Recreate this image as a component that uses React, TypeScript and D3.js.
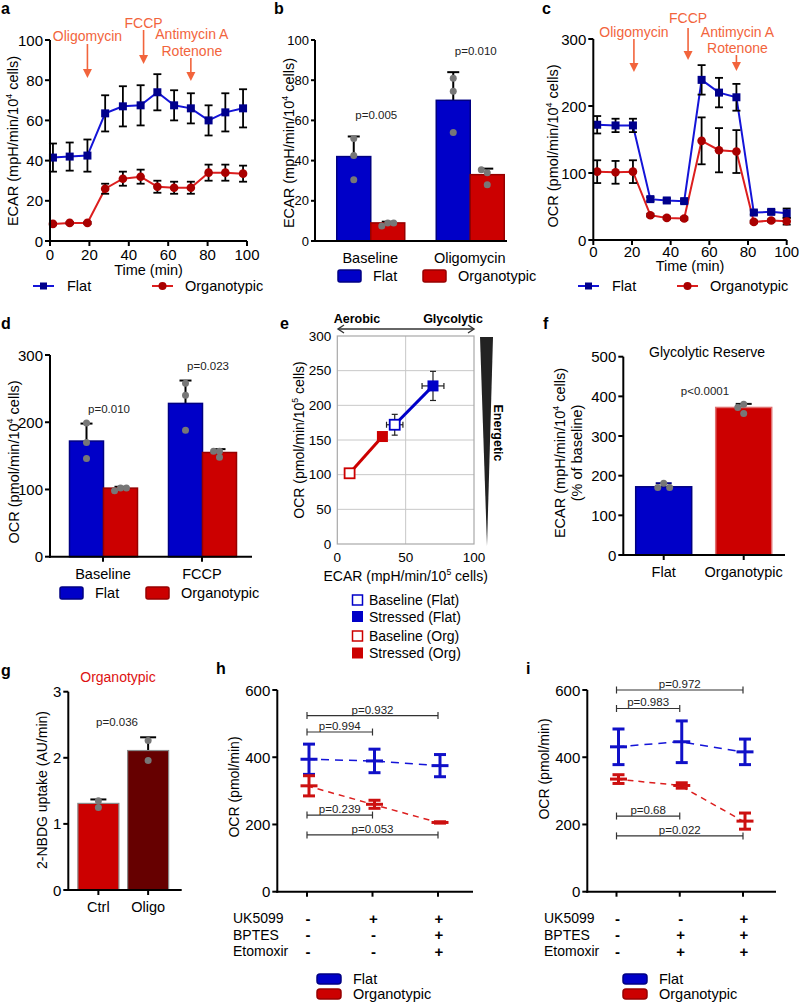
import React from 'react';
import * as d3 from 'd3';

// ---------- colours ----------
const FLAT_LINE = '#1414d8';
const FLAT_MARK = '#00008c';
const FLAT_FILL = '#0000c8';
const FLAT_EDGE = '#000082';
const ORG_LINE = '#dc1e1e';
const ORG_MARK = '#aa0000';
const ORG_FILL = '#cc0000';
const ORG_EDGE = '#960000';
const ORANGE = '#f2643c';
const FONT = '"Liberation Sans", Arial, Helvetica, sans-serif';

// ---------- panel a data (ECAR time course) ----------
const timeA = [1.5, 10, 19, 28, 37, 46, 54.5, 63, 71.5, 80.5, 89, 98];
const ecarFlat = [41.5, 42, 42.5, 63.5, 67, 67.5, 74, 67.5, 66, 60, 64, 66];
const ecarFlatErr = [7, 7, 8, 9, 10, 10, 9, 7.5, 7.5, 7.5, 9.5, 9.5];
const ecarOrg = [8.5, 9, 9, 26, 31, 32, 27, 26.5, 26.5, 34, 34, 33.5];
const ecarOrgErr = [0.5, 0.5, 0.5, 2.5, 3.5, 3.5, 3, 3, 3, 4, 4, 4];
const injA = [
  { t: 19, lines: ['Oligomycin'] },
  { t: 47.5, lines: ['FCCP'] },
  { t: 71.5, lines: ['Antimycin A', 'Rotenone'] },
];

// ---------- panel b data ----------
const catsB = ['Baseline', 'Oligomycin'];
const bFlat = [42, 70];
const bFlatErr = [10, 14];
const bOrg = [9, 33];
const bOrgErr = [0.6, 3];
const bFlatDots = [[51, 42.5, 30.5], [81, 74.5, 54]];
const bOrgDots = [[9, 7.5, 9], [34, 35.5, 28]];
const bP = ['p=0.005', 'p=0.010'];

// ---------- panel c data (OCR time course) ----------
const timeC = [2, 11.5, 20.5, 29.5, 38, 47, 56, 65, 74, 83, 92, 100];
const ocrFlat = [172, 171, 171, 61, 59, 58, 239, 220, 213, 41, 42, 40];
const ocrFlatErr = [13, 10, 10, 3, 3, 3, 22, 22, 20, 3, 3, 7];
const ocrOrg = [102, 101, 102, 37, 33, 32, 148, 134, 132, 27, 29, 28];
const ocrOrgErr = [17, 17, 17, 2, 2, 2, 35, 33, 32, 2, 2, 5];
const injC = [
  { t: 21, lines: ['Oligomycin'] },
  { t: 49, lines: ['FCCP'] },
  { t: 74, lines: ['Antimycin A', 'Rotenone'] },
];

// ---------- panel d data ----------
const catsD = ['Baseline', 'FCCP'];
const dFlat = [172, 228];
const dFlatErr = [26, 34];
const dOrg = [102, 155];
const dOrgErr = [2, 5];
const dFlatDots = [[199, 170, 146], [258, 240, 188]];
const dOrgDots = [[102, 98, 102], [157, 148, 157]];
const dP = ['p=0.010', 'p=0.023'];

// ---------- panel e data (energy map) ----------
const eFlatEcar = [42, 70];
const eFlatOcr = [172, 228];
const eFlatEcarErr = [6, 8];
const eFlatOcrErr = [15, 21];
const eOrgEcar = [9, 33];
const eOrgOcr = [102, 155];

// ---------- panel f data ----------
const catsF = ['Flat', 'Organotypic'];
const fVals = [172, 372];
const fErr = [9, 9];
const fDots = [[181, 170, 170], [380, 372, 357]];

// ---------- panel g data ----------
const catsG = ['Ctrl', 'Oligo'];
const gVals = [1.31, 2.11];
const gErr = [0.06, 0.2];
const gDots = [[1.35, 1.25], [2.26, 1.96]];

// ---------- panel h data ----------
const hFlat = [394, 389, 375];
const hFlatErr = [45, 35, 33];
const hOrg = [315, 260, 206];
const hOrgErr = [30, 12, 2];
const hUK = ['-', '+', '+'];
const hBPTES = ['-', '-', '+'];
const hEto = ['-', '-', '+'];
const hBrackets = [
  { a: 0, b: 2, v: 524, p: 'p=0.932' },
  { a: 0, b: 1, v: 475, p: 'p=0.994' },
  { a: 0, b: 1, v: 228, p: 'p=0.239' },
  { a: 0, b: 2, v: 169, p: 'p=0.053' },
];

// ---------- panel i data ----------
const iFlat = [431, 446, 416];
const iFlatErr = [53, 62, 38];
const iOrg = [335, 316, 210];
const iOrgErr = [13, 8, 24];
const iUK = ['-', '-', '+'];
const iBPTES = ['-', '+', '+'];
const iEto = ['-', '+', '+'];
const iBrackets = [
  { a: 0, b: 2, v: 600, p: 'p=0.972' },
  { a: 0, b: 1, v: 545, p: 'p=0.983' },
  { a: 0, b: 1, v: 225, p: 'p=0.68' },
  { a: 0, b: 2, v: 166, p: 'p=0.022' },
];

// ================= helpers =================
type Lin = d3.ScaleLinear<number, number>;

function YAxis({ scale, x, ticks, size = 15, tick = 5 }: { scale: Lin; x: number; ticks: number[]; size?: number; tick?: number }) {
  const [r0, r1] = scale.range();
  return (
    <g>
      <line x1={x} x2={x} y1={r0 + 1} y2={r1} stroke="#000" strokeWidth={2} />
      {ticks.map((t) => (
        <g key={t}>
          <line x1={x - tick} x2={x} y1={scale(t)} y2={scale(t)} stroke="#000" strokeWidth={2} />
          <text x={x - tick - 2} y={scale(t)} textAnchor="end" dominantBaseline="central" fontSize={size}>
            {t}
          </text>
        </g>
      ))}
    </g>
  );
}

function XAxisLin({ scale, y, ticks, size = 15, ly = 14 }: { scale: Lin; y: number; ticks: number[]; size?: number; ly?: number }) {
  const [r0, r1] = scale.range();
  return (
    <g>
      <line x1={r0 - 1} x2={r1} y1={y} y2={y} stroke="#000" strokeWidth={2} />
      {ticks.map((t) => (
        <g key={t}>
          <line x1={scale(t)} x2={scale(t)} y1={y} y2={y + 5} stroke="#000" strokeWidth={2} />
          <text x={scale(t)} y={y + ly} textAnchor="middle" dominantBaseline="central" fontSize={size}>
            {t}
          </text>
        </g>
      ))}
    </g>
  );
}

function Sup({ pre, sup, post }: { pre: string; sup: string; post: string }) {
  return (
    <>
      <tspan>{pre}</tspan>
      <tspan fontSize="0.62em" dy="-0.45em">{sup}</tspan>
      <tspan dy="0.28em">{post}</tspan>
    </>
  );
}

function VLabel({ x, y, children, size = 14.5 }: { x: number; y: number; children: React.ReactNode; size?: number }) {
  return (
    <text transform={`translate(${x},${y}) rotate(-90)`} textAnchor="middle" dominantBaseline="central" fontSize={size}>
      {children}
    </text>
  );
}

function PanelLabel({ x, y, t }: { x: number; y: number; t: string }) {
  return (
    <text x={x} y={y} fontWeight="bold" fontSize={16} dominantBaseline="central">
      {t}
    </text>
  );
}

function Arrow({ x, y1, y2, color }: { x: number; y1: number; y2: number; color: string }) {
  return (
    <g>
      <line x1={x} x2={x} y1={y1} y2={y2 - 6} stroke={color} strokeWidth={1.6} />
      <path d={`M${x - 4.5},${y2 - 9} L${x + 4.5},${y2 - 9} L${x},${y2} Z`} fill={color} />
    </g>
  );
}

function swarm(vals: number[], y: (v: number) => number, r: number) {
  const placed: { px: number; py: number }[] = [];
  return vals.map((v) => {
    const py = y(v);
    const cands = [0, -1.7 * r, 1.7 * r, -3.4 * r, 3.4 * r];
    for (const c of cands) {
      if (placed.every((p) => Math.hypot(p.px - c, p.py - py) >= 1.7 * r)) {
        placed.push({ px: c, py });
        return c;
      }
    }
    placed.push({ px: 0, py });
    return 0;
  });
}

function Dots({ cx, vals, y }: { cx: number; vals: number[]; y: Lin }) {
  const offs = swarm(vals, y, 3.5);
  return (
    <g>
      {vals.map((v, i) => (
        <circle key={i} cx={cx + offs[i]} cy={y(v)} r={3.5} fill="#777" />
      ))}
    </g>
  );
}

function ErrUp({ cx, v, e, y, color = '#000', w = 6 }: { cx: number; v: number; e: number; y: Lin; color?: string; w?: number }) {
  return (
    <g stroke={color} strokeWidth={2}>
      <line x1={cx} x2={cx} y1={y(v)} y2={y(v + e)} />
      <line x1={cx - w} x2={cx + w} y1={y(v + e)} y2={y(v + e)} />
    </g>
  );
}

// ================= time-course panel =================
function TimeCourse({
  x, y, times, flat, flatErr, org, orgErr,
}: { x: Lin; y: Lin; times: number[]; flat: number[]; flatErr: number[]; org: number[]; orgErr: number[] }) {
  const lf = d3.line<number>().x((_, i) => x(times[i])).y((d) => y(d));
  const err = (vals: number[], errs: number[], key: string) =>
    vals.map((v, i) => (
      <g key={key + i} stroke="#000" strokeWidth={1.8}>
        <line x1={x(times[i])} x2={x(times[i])} y1={y(v - errs[i])} y2={y(v + errs[i])} />
        <line x1={x(times[i]) - 4} x2={x(times[i]) + 4} y1={y(v - errs[i])} y2={y(v - errs[i])} />
        <line x1={x(times[i]) - 4} x2={x(times[i]) + 4} y1={y(v + errs[i])} y2={y(v + errs[i])} />
      </g>
    ));
  return (
    <g>
      <path d={lf(org) || ''} fill="none" stroke={ORG_LINE} strokeWidth={2} />
      <path d={lf(flat) || ''} fill="none" stroke={FLAT_LINE} strokeWidth={2} />
      {err(org, orgErr, 'o')}
      {err(flat, flatErr, 'f')}
      {org.map((v, i) => (
        <circle key={'oc' + i} cx={x(times[i])} cy={y(v)} r={4.3} fill={ORG_MARK} />
      ))}
      {flat.map((v, i) => (
        <rect key={'fr' + i} x={x(times[i]) - 4} y={y(v) - 4} width={8} height={8} fill={FLAT_MARK} />
      ))}
    </g>
  );
}

function LineLegend({ y, fx, ox }: { y: number; fx: number; ox: number }) {
  return (
    <g>
      <line x1={fx} x2={fx + 21} y1={y} y2={y} stroke={FLAT_LINE} strokeWidth={2} />
      <rect x={fx + 7} y={y - 3.5} width={7} height={7} fill={FLAT_MARK} />
      <text x={fx + 34} y={y} dominantBaseline="central" fontSize={14.5}>Flat</text>
      <line x1={ox} x2={ox + 21} y1={y} y2={y} stroke={ORG_LINE} strokeWidth={2} />
      <circle cx={ox + 10.5} cy={y} r={4} fill={ORG_MARK} />
      <text x={ox + 33} y={y} dominantBaseline="central" fontSize={14.5}>Organotypic</text>
    </g>
  );
}

function BarLegend({ y, fx, ox }: { y: number; fx: number; ox: number }) {
  return (
    <g>
      <rect x={fx} y={y - 6} width={23} height={12} rx={2} fill={FLAT_FILL} stroke={FLAT_EDGE} strokeWidth={1.5} />
      <text x={fx + 35} y={y} dominantBaseline="central" fontSize={14.5}>Flat</text>
      <rect x={ox} y={y - 6} width={23} height={12} rx={2} fill={ORG_FILL} stroke={ORG_EDGE} strokeWidth={1.5} />
      <text x={ox + 35} y={y} dominantBaseline="central" fontSize={14.5}>Organotypic</text>
    </g>
  );
}

function Injections({ x, inj, textY, arrows }: { x: Lin; inj: { t: number; lines: string[] }[]; textY: number[][]; arrows: number[][] }) {
  return (
    <g>
      {inj.map((d, i) => (
        <g key={i}>
          {d.lines.map((l, j) => (
            <text key={j} x={x(d.t) + (i === 2 ? 1 : 0)} y={textY[i][j]} textAnchor="middle" dominantBaseline="central" fontSize={14} fill={ORANGE}>
              {l}
            </text>
          ))}
          <Arrow x={x(d.t)} y1={arrows[i][0]} y2={arrows[i][1]} color={ORANGE} />
        </g>
      ))}
    </g>
  );
}

// ================= grouped bars =================
function GroupBars({
  cats, band, y, flat, flatErr, org, orgErr, flatDots, orgDots, p, pOff,
}: {
  cats: string[]; band: d3.ScaleBand<string>; y: Lin; flat: number[]; flatErr: number[]; org: number[]; orgErr: number[];
  flatDots: number[][]; orgDots: number[][]; p: string[]; pOff: number;
}) {
  const bw = 34;
  const y0 = y(0);
  return (
    <g>
      {cats.map((c, i) => {
        const cx = (band(c) || 0) + band.bandwidth() / 2;
        const fx = cx - bw + 0.5;
        const ox = cx + 0.5;
        return (
          <g key={c}>
            <ErrUp cx={fx + bw / 2} v={flat[i]} e={flatErr[i]} y={y} />
            <ErrUp cx={ox + bw / 2} v={org[i]} e={orgErr[i]} y={y} />
            <rect x={fx} y={y(flat[i])} width={bw} height={y0 - y(flat[i])} fill={FLAT_FILL} stroke={FLAT_EDGE} strokeWidth={1.5} />
            <rect x={ox} y={y(org[i])} width={bw} height={y0 - y(org[i])} fill={ORG_FILL} stroke={ORG_EDGE} strokeWidth={1.5} />
            <Dots cx={fx + bw / 2} vals={flatDots[i]} y={y} />
            <Dots cx={ox + bw / 2} vals={orgDots[i]} y={y} />
            <text x={cx + 6} y={y(flat[i] + flatErr[i]) - pOff} textAnchor="middle" dominantBaseline="central" fontSize={11.5} fill="#222">
              {p[i]}
            </text>
          </g>
        );
      })}
    </g>
  );
}

function CatAxis({ cats, band, y, x0, x1, ticks = true, size = 14.5, ly = 17 }: { cats: string[]; band: d3.ScaleBand<string>; y: number; x0: number; x1: number; ticks?: boolean; size?: number; ly?: number }) {
  return (
    <g>
      <line x1={x0 - 1} x2={x1} y1={y} y2={y} stroke="#000" strokeWidth={2} />
      {cats.map((c) => {
        const cx = (band(c) || 0) + band.bandwidth() / 2;
        return (
          <g key={c}>
            {ticks && <line x1={cx} x2={cx} y1={y} y2={y + 5} stroke="#000" strokeWidth={2} />}
            <text x={cx} y={y + ly} textAnchor="middle" dominantBaseline="central" fontSize={size}>
              {c}
            </text>
          </g>
        );
      })}
    </g>
  );
}

// ================= dose-response (h, i) =================
function MeanSD({
  x, y, flat, flatErr, org, orgErr, brackets,
}: { x: d3.ScalePoint<number>; y: Lin; flat: number[]; flatErr: number[]; org: number[]; orgErr: number[]; brackets: { a: number; b: number; v: number; p: string }[] }) {
  const idx = flat.map((_, i) => i);
  const ln = (vals: number[]) => d3.line<number>().x((_, i) => x(i) || 0).y((d) => y(d))(vals) || '';
  const marks = (vals: number[], errs: number[], color: string, k: string) =>
    vals.map((v, i) => {
      const cx = (x(i) || 0) + 2;
      return (
        <g key={k + i} stroke={color} strokeWidth={3}>
          <line x1={cx} x2={cx} y1={y(v - errs[i])} y2={y(v + errs[i])} />
          <line x1={cx - 6} x2={cx + 6} y1={y(v - errs[i])} y2={y(v - errs[i])} />
          <line x1={cx - 6} x2={cx + 6} y1={y(v + errs[i])} y2={y(v + errs[i])} />
          <line x1={cx - 8.5} x2={cx + 8.5} y1={y(v)} y2={y(v)} />
        </g>
      );
    });
  return (
    <g>
      <path d={ln(flat)} fill="none" stroke={FLAT_LINE} strokeWidth={1.5} strokeDasharray="8,6" />
      <path d={ln(org)} fill="none" stroke={ORG_LINE} strokeWidth={1.5} strokeDasharray="6,5" />
      {marks(flat, flatErr, '#1010c8', 'f')}
      {marks(org, orgErr, '#cc1010', 'o')}
      {brackets.map((b, i) => {
        const xa = x(b.a) || 0;
        const xb = x(b.b) || 0;
        const yy = y(b.v);
        return (
          <g key={i}>
            <g stroke="#333" strokeWidth={1.2}>
              <line x1={xa} x2={xb} y1={yy} y2={yy} />
              <line x1={xa} x2={xa} y1={yy - 3.5} y2={yy + 3.5} />
              <line x1={xb} x2={xb} y1={yy - 3.5} y2={yy + 3.5} />
            </g>
            <text x={(xa + xb) / 2} y={yy - 2} textAnchor="middle" fontSize={11.5} fill="#222">
              {b.p}
            </text>
          </g>
        );
      })}
      {idx.map((i) => (
        <line key={'t' + i} x1={x(i)} x2={x(i)} y1={y(0)} y2={y(0) + 5} stroke="#000" strokeWidth={2} />
      ))}
    </g>
  );
}

function SignRows({ x, labelX, rows, ys }: { x: d3.ScalePoint<number>; labelX: number; rows: { name: string; s: string[] }[]; ys: number[] }) {
  return (
    <g>
      {rows.map((r, j) => (
        <g key={r.name}>
          <text x={labelX} y={ys[j]} dominantBaseline="central" fontSize={14}>
            {r.name}
          </text>
          {r.s.map((s, i) => (
            <text key={i} x={(x(i) || 0) + 1} y={ys[j]} textAnchor="middle" dominantBaseline="central" fontSize={15} fontWeight="bold">
              {s === '-' ? '-' : '+'}
            </text>
          ))}
        </g>
      ))}
    </g>
  );
}

function SmallLegend({ x, y1, y2 }: { x: number; y1: number; y2: number }) {
  return (
    <g>
      <rect x={x} y={y1 - 5} width={24} height={10} rx={3} fill={FLAT_FILL} stroke={FLAT_EDGE} strokeWidth={1.5} />
      <text x={x + 36} y={y1} dominantBaseline="central" fontSize={14.5}>Flat</text>
      <rect x={x} y={y2 - 5} width={24} height={10} rx={3} fill={ORG_FILL} stroke={ORG_EDGE} strokeWidth={1.5} />
      <text x={x + 36} y={y2} dominantBaseline="central" fontSize={14.5}>Organotypic</text>
    </g>
  );
}

// ================= App =================
export default function App() {
  // a
  const xA = d3.scaleLinear().domain([0, 100]).range([50, 247]);
  const yA = d3.scaleLinear().domain([0, 100]).range([241, 40]);
  // b
  const yB = d3.scaleLinear().domain([0, 100]).range([241, 40]);
  const bandB = d3.scaleBand<string>().domain(catsB).range([320.5, 519.5]).padding(0);
  // c
  const xC = d3.scaleLinear().domain([0, 100]).range([593.3, 786.7]);
  const yC = d3.scaleLinear().domain([0, 300]).range([240, 39]);
  // d
  const yD = d3.scaleLinear().domain([0, 300]).range([556.7, 355]);
  const bandD = d3.scaleBand<string>().domain(catsD).range([53.5, 251.5]).padding(0);
  // e
  const xE = d3.scaleLinear().domain([0, 100]).range([337.3, 474]);
  const yE = d3.scaleLinear().domain([0, 300]).range([544, 336]);
  // f
  const yF = d3.scaleLinear().domain([0, 500]).range([555, 356.7]);
  const bandF = d3.scaleBand<string>().domain(catsF).range([623.7, 783.7]).padding(0);
  // g
  const yG = d3.scaleLinear().domain([0, 3]).range([890, 691.7]);
  const bandG = d3.scaleBand<string>().domain(catsG).range([73.5, 173]).padding(0);
  // h, i
  const yH = d3.scaleLinear().domain([0, 600]).range([891.7, 690]);
  const xH = d3.scalePoint<number>().domain([0, 1, 2]).range([307, 438]);
  const xI = d3.scalePoint<number>().domain([0, 1, 2]).range([616.5, 743]);

  const lineE = d3.line<number>();
  const flatPts: [number, number][] = eFlatEcar.map((v, i) => [xE(v), yE(eFlatOcr[i])]);
  const orgPts: [number, number][] = eOrgEcar.map((v, i) => [xE(v), yE(eOrgOcr[i])]);

  return (
    <svg width={799} height={1002} style={{ position: 'absolute', left: 0, top: 0, background: '#fff' }} fontFamily={FONT}>
      <rect width={799} height={1002} fill="#fff" />

      {/* ---------------- a ---------------- */}
      <PanelLabel x={1} y={8} t="a" />
      <TimeCourse x={xA} y={yA} times={timeA} flat={ecarFlat} flatErr={ecarFlatErr} org={ecarOrg} orgErr={ecarOrgErr} />
      <YAxis scale={yA} x={50} ticks={[0, 20, 40, 60, 80, 100]} />
      <XAxisLin scale={xA} y={241} ticks={[0, 20, 40, 60, 80, 100]} ly={13} />
      <text x={xA(50)} y={270} textAnchor="middle" dominantBaseline="central" fontSize={14.5}>Time (min)</text>
      <VLabel x={13} y={141}><Sup pre="ECAR (mpH/min/10" sup="4" post=" cells)" /></VLabel>
      <Injections x={xA} inj={injA} textY={[[36], [23], [34, 51]]} arrows={[[44, 78], [30, 64], [58, 81]]} />
      <LineLegend y={286} fx={33} ox={152} />

      {/* ---------------- b ---------------- */}
      <PanelLabel x={274} y={8} t="b" />
      <GroupBars cats={catsB} band={bandB} y={yB} flat={bFlat} flatErr={bFlatErr} org={bOrg} orgErr={bOrgErr}
        flatDots={bFlatDots} orgDots={bOrgDots} p={bP} pOff={21} />
      <YAxis scale={yB} x={315} ticks={[0, 20, 40, 60, 80, 100]} size={13} tick={4} />
      <CatAxis cats={catsB} band={bandB} y={241} x0={315} x1={507} ticks={false} />
      <VLabel x={289} y={143}><Sup pre="ECAR (mpH/min/10" sup="4" post=" cells)" /></VLabel>
      <BarLegend y={276} fx={338} ox={423} />

      {/* ---------------- c ---------------- */}
      <PanelLabel x={542} y={8} t="c" />
      <TimeCourse x={xC} y={yC} times={timeC} flat={ocrFlat} flatErr={ocrFlatErr} org={ocrOrg} orgErr={ocrOrgErr} />
      <YAxis scale={yC} x={593.3} ticks={[0, 100, 200, 300]} />
      <XAxisLin scale={xC} y={240} ticks={[0, 20, 40, 60, 80, 100]} ly={11} />
      <text x={xC(50)} y={266} textAnchor="middle" dominantBaseline="central" fontSize={14.5}>Time (min)</text>
      <VLabel x={553} y={146}><Sup pre="OCR (pmol/min/10" sup="4" post=" cells)" /></VLabel>
      <Injections x={xC} inj={injC} textY={[[32], [18], [32, 48]]} arrows={[[39, 72], [28, 60], [55, 71]]} />
      <LineLegend y={286} fx={578} ox={677} />

      {/* ---------------- d ---------------- */}
      <PanelLabel x={1} y={323} t="d" />
      <GroupBars cats={catsD} band={bandD} y={yD} flat={dFlat} flatErr={dFlatErr} org={dOrg} orgErr={dOrgErr}
        flatDots={dFlatDots} orgDots={dOrgDots} p={dP} pOff={15} />
      <YAxis scale={yD} x={50} ticks={[0, 100, 200, 300]} />
      <CatAxis cats={catsD} band={bandD} y={556.7} x0={50} x1={252} />
      <VLabel x={14} y={462}><Sup pre="OCR (pmol/min/10" sup="4" post=" cells)" /></VLabel>
      <BarLegend y={593} fx={60} ox={146} />

      {/* ---------------- e ---------------- */}
      <PanelLabel x={280} y={323} t="e" />
      <g>
        {[50, 100, 150, 200, 250].map((t) => (
          <line key={'gy' + t} x1={xE(0)} x2={xE(100)} y1={yE(t)} y2={yE(t)} stroke="#c8c8c8" strokeWidth={1} />
        ))}
        <line x1={xE(50)} x2={xE(50)} y1={yE(0)} y2={yE(300)} stroke="#c8c8c8" strokeWidth={1} />
        <rect x={xE(0)} y={yE(300)} width={xE(100) - xE(0)} height={yE(0) - yE(300)} fill="none" stroke="#a8a8a8" strokeWidth={1.2} />
        {[0, 50, 100, 150, 200, 250, 300].map((t) => (
          <text key={'ey' + t} x={xE(0) - 6} y={yE(t)} textAnchor="end" dominantBaseline="central" fontSize={13.5}>{t}</text>
        ))}
        {[0, 50, 100].map((t) => (
          <text key={'ex' + t} x={xE(t)} y={557} textAnchor="middle" dominantBaseline="central" fontSize={13.5}>{t}</text>
        ))}
        <text x={xE(50)} y={576} textAnchor="middle" dominantBaseline="central" fontSize={14}>
          <Sup pre="ECAR (mpH/min/10" sup="5" post=" cells)" />
        </text>
        <VLabel x={299} y={440} size={14}><Sup pre="OCR (pmol/min/10" sup="5" post=" cells)" /></VLabel>
        {/* aerobic / glycolytic arrow */}
        <text x={357} y={319} textAnchor="middle" dominantBaseline="central" fontSize={12.5} fontWeight="bold">Aerobic</text>
        <text x={453} y={319} textAnchor="middle" dominantBaseline="central" fontSize={12.5} fontWeight="bold">Glycolytic</text>
        <g stroke="#333" strokeWidth={1.4} fill="none">
          <line x1={338} x2={474} y1={329} y2={329} />
          <path d="M344,325 L338,329 L344,333" />
          <path d="M468,325 L474,329 L468,333" />
        </g>
        <path d="M480,337 L493,337 L487,546 Z" fill="#222" />
        <text transform="translate(498,433) rotate(90)" textAnchor="middle" dominantBaseline="central" fontSize={12.5} fontWeight="bold">Energetic</text>
        {/* lines */}
        <path d={lineE(orgPts) || ''} fill="none" stroke={ORG_FILL} strokeWidth={3} />
        <path d={lineE(flatPts) || ''} fill="none" stroke={FLAT_FILL} strokeWidth={3} />
        {/* error bars flat */}
        {eFlatEcar.map((v, i) => {
          const cx = xE(v);
          const cy = yE(eFlatOcr[i]);
          const x0 = xE(v - eFlatEcarErr[i]);
          const x1 = xE(v + eFlatEcarErr[i]);
          const y0 = yE(eFlatOcr[i] - eFlatOcrErr[i]);
          const y1 = yE(eFlatOcr[i] + eFlatOcrErr[i]);
          return (
            <g key={'ee' + i} stroke="#222" strokeWidth={1.2}>
              <line x1={x0} x2={x1} y1={cy} y2={cy} />
              <line x1={x0} x2={x0} y1={cy - 3} y2={cy + 3} />
              <line x1={x1} x2={x1} y1={cy - 3} y2={cy + 3} />
              <line x1={cx} x2={cx} y1={y0} y2={y1} />
              <line x1={cx - 3} x2={cx + 3} y1={y0} y2={y0} />
              <line x1={cx - 3} x2={cx + 3} y1={y1} y2={y1} />
            </g>
          );
        })}
        {/* markers */}
        <rect x={orgPts[0][0] - 5} y={orgPts[0][1] - 5} width={10} height={10} fill="#fff" stroke={ORG_FILL} strokeWidth={1.8} />
        <rect x={orgPts[1][0] - 5.5} y={orgPts[1][1] - 5.5} width={11} height={11} fill={ORG_FILL} />
        <rect x={flatPts[0][0] - 5} y={flatPts[0][1] - 5} width={10} height={10} fill="#fff" stroke={FLAT_FILL} strokeWidth={1.8} />
        <rect x={flatPts[1][0] - 5.5} y={flatPts[1][1] - 5.5} width={11} height={11} fill={FLAT_FILL} />
        {/* legend */}
        <rect x={352.5} y={595} width={10} height={10} fill="#fff" stroke={FLAT_FILL} strokeWidth={1.5} />
        <text x={369} y={600} dominantBaseline="central" fontSize={14}>Baseline (Flat)</text>
        <rect x={352} y={611} width={11} height={11} fill={FLAT_FILL} />
        <text x={369} y={616.5} dominantBaseline="central" fontSize={14}>Stressed (Flat)</text>
        <rect x={352.5} y={631} width={10} height={10} fill="#fff" stroke={ORG_FILL} strokeWidth={1.5} />
        <text x={369} y={636} dominantBaseline="central" fontSize={14}>Baseline (Org)</text>
        <rect x={352} y={647.5} width={11} height={11} fill={ORG_FILL} />
        <text x={369} y={653} dominantBaseline="central" fontSize={14}>Stressed (Org)</text>
      </g>

      {/* ---------------- f ---------------- */}
      <PanelLabel x={543} y={323} t="f" />
      <text x={707} y={352} textAnchor="middle" dominantBaseline="central" fontSize={14}>Glycolytic Reserve</text>
      {catsF.map((c, i) => {
        const cx = (bandF(c) || 0) + bandF.bandwidth() / 2;
        const bw = 56;
        return (
          <g key={c}>
            <ErrUp cx={cx} v={fVals[i]} e={fErr[i]} y={yF} color={i === 0 ? FLAT_EDGE : '#111'} w={8} />
            <rect x={cx - bw / 2} y={yF(fVals[i])} width={bw} height={yF(0) - yF(fVals[i])}
              fill={i === 0 ? FLAT_FILL : ORG_FILL} stroke={i === 0 ? FLAT_EDGE : '#e07070'} strokeWidth={1.5} />
            <Dots cx={cx} vals={fDots[i]} y={yF} />
          </g>
        );
      })}
      <text x={705} y={391} textAnchor="middle" dominantBaseline="central" fontSize={11.5} fill="#222">p&lt;0.0001</text>
      <YAxis scale={yF} x={623.3} ticks={[0, 100, 200, 300, 400, 500]} />
      <CatAxis cats={catsF} band={bandF} y={555} x0={623.3} x1={785} />
      <VLabel x={560} y={453}><Sup pre="ECAR (mpH/min/10" sup="4" post=" cells)" /></VLabel>
      <VLabel x={577} y={453}>(% of baseline)</VLabel>

      {/* ---------------- g ---------------- */}
      <PanelLabel x={1} y={670} t="g" />
      <text x={118} y={677} textAnchor="middle" dominantBaseline="central" fontSize={14} fill="#dd1111">Organotypic</text>
      {catsG.map((c, i) => {
        const cx = (bandG(c) || 0) + bandG.bandwidth() / 2;
        const bw = 41;
        return (
          <g key={c}>
            <ErrUp cx={cx} v={gVals[i]} e={gErr[i]} y={yG} w={8} />
            <rect x={cx - bw / 2} y={yG(gVals[i])} width={bw} height={yG(0) - yG(gVals[i])}
              fill={i === 0 ? ORG_FILL : '#660000'} stroke="#8a8a8a" strokeWidth={1.2} />
            <Dots cx={cx} vals={gDots[i]} y={yG} />
          </g>
        );
      })}
      <text x={117} y={722} textAnchor="middle" dominantBaseline="central" fontSize={11.5} fill="#222">p=0.036</text>
      <YAxis scale={yG} x={68.3} ticks={[0, 1, 2, 3]} />
      <CatAxis cats={catsG} band={bandG} y={890} x0={68.3} x1={181.7} />
      <VLabel x={42} y={790} size={14}>2-NBDG uptake (AU/min)</VLabel>

      {/* ---------------- h ---------------- */}
      <PanelLabel x={216} y={668} t="h" />
      <MeanSD x={xH} y={yH} flat={hFlat} flatErr={hFlatErr} org={hOrg} orgErr={hOrgErr} brackets={hBrackets} />
      <YAxis scale={yH} x={277.3} ticks={[0, 200, 400, 600]} />
      <line x1={276.3} x2={473} y1={yH(0)} y2={yH(0)} stroke="#000" strokeWidth={2} />
      <VLabel x={234} y={787} size={14}>OCR (pmol/min)</VLabel>
      <SignRows x={xH} labelX={233} rows={[{ name: 'UK5099', s: hUK }, { name: 'BPTES', s: hBPTES }, { name: 'Etomoxir', s: hEto }]} ys={[918, 934.5, 951]} />
      <SmallLegend x={317} y1={979} y2={994} />

      {/* ---------------- i ---------------- */}
      <PanelLabel x={526} y={668} t="i" />
      <MeanSD x={xI} y={yH} flat={iFlat} flatErr={iFlatErr} org={iOrg} orgErr={iOrgErr} brackets={iBrackets} />
      <YAxis scale={yH} x={587.3} ticks={[0, 200, 400, 600]} />
      <line x1={586.3} x2={776} y1={yH(0)} y2={yH(0)} stroke="#000" strokeWidth={2} />
      <VLabel x={544} y={769} size={14}>OCR (pmol/min)</VLabel>
      <SignRows x={xI} labelX={544} rows={[{ name: 'UK5099', s: iUK }, { name: 'BPTES', s: iBPTES }, { name: 'Etomoxir', s: iEto }]} ys={[918, 934.5, 951]} />
      <SmallLegend x={623} y1={979} y2={994} />
    </svg>
  );
}
